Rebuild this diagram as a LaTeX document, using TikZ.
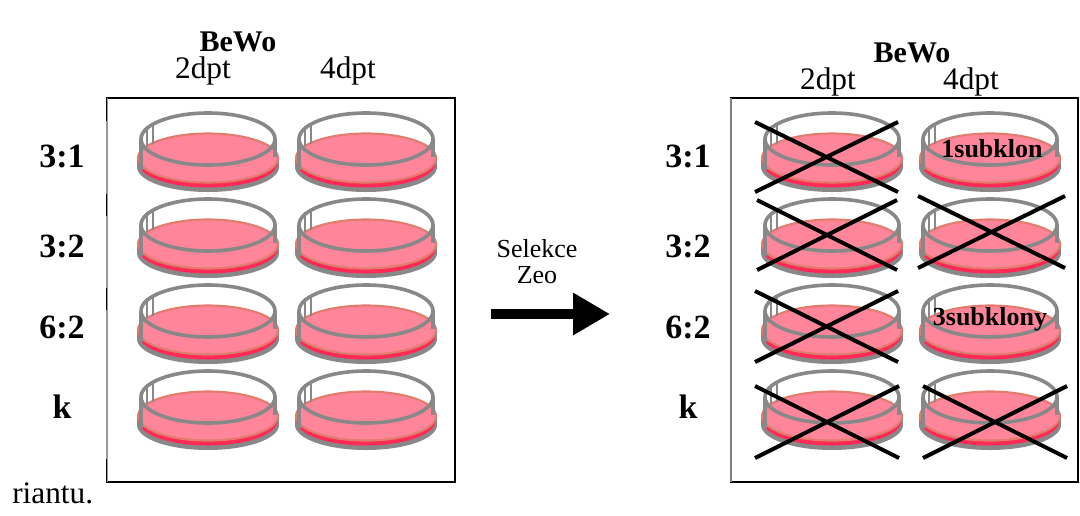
\documentclass[tikz,border=0pt]{standalone}
\usepackage{fontspec}
\setmainfont{Liberation Serif}
\usetikzlibrary{arrows.meta}
\definecolor{dishgray}{HTML}{888888}
\definecolor{mediumpink}{HTML}{FF859A}
\definecolor{rimsalmon}{HTML}{E27D6E}
\definecolor{mediumred}{HTML}{FF2A55}
\begin{document}
\begin{tikzpicture}[x=0.75pt,y=-0.75pt,
  lbl/.style={anchor=base,inner sep=0pt,font=\fontsize{19.5}{23}\selectfont},
  blbl/.style={lbl,font=\fontsize{19.5}{23}\selectfont\bfseries},
  headb/.style={lbl,font=\fontsize{22.5}{26}\selectfont\bfseries},
  headn/.style={lbl,font=\fontsize{23.5}{27}\selectfont},
  rowlbl/.style={lbl,font=\fontsize{25.5}{29}\selectfont\bfseries},
  panel/.style={draw=black,line width=1.1pt},
  crossline/.style={line width=3pt,black},
  petri/.pic={
    % base dish: gray wall and bottom, red layer, pink medium
    \fill[dishgray] (-71,45) rectangle (71,54);
    \fill[dishgray] (0,54) ellipse [x radius=71, y radius=25];
    \fill[mediumred] (0,50) ellipse [x radius=69.5, y radius=24.5];
    \filldraw[fill=mediumpink, draw=rimsalmon, line width=1.6pt]
      (0,45) ellipse [x radius=70, y radius=24.5];
    % lid: walls, grips and rim
    \draw[dishgray, line width=3pt] (-67,26) -- (-67,57);
    \draw[dishgray, line width=2.6pt] (67,26) -- (67,44);
    \draw[dishgray, line width=2.2pt] (-61,13) -- (-61,33) (-55,10) -- (-55,31);
    \draw[dishgray, line width=2.7pt] (0,26) ellipse [x radius=67, y radius=26];
  }]
\useasboundingbox (0,0) rectangle (1080,515);

% panels
\draw[panel] (107,98) rectangle (455,482);
\draw[panel] (731,98) rectangle (1078,482);
\draw[gray!80,line width=0.9pt] (107,98) -- (107,482);
\draw[gray,line width=0.9pt] (731,98) -- (731,482);
\foreach \a/\b in {98/121,194/216,288/310,459/482}
  \draw[black,line width=1.2pt] (106.3,\a) -- (106.3,\b);

% dishes
\foreach \cx in {208,366,832,990}
  \foreach \yo in {113,199,285,371}
    \pic at (\cx,\yo) {petri};

% headers
\node[headb] (bewoL) at (238,51) {BeWo};
\node[headn] (dptLa) at (203,78) {2dpt};
\node[headn] (dptLb) at (348,78) {4dpt};
\node[headb] (bewoR) at (912,62) {BeWo};
\node[headn] (dptRa) at (828,89) {2dpt};
\node[headn] (dptRb) at (971,89) {4dpt};

% row labels
\foreach \t/\yb/\n in {3:1/167/a,3:2/257/b,6:2/338/c,k/418/d}{
  \node[rowlbl] (rowL\n) at (62,\yb) {\t};
  \node[rowlbl] (rowR\n) at (688,\yb) {\t};
}

% selection arrow
\node[lbl] (sel) at (537,257) {Selekce};
\node[lbl] (zeo) at (537,283) {Zeo};
\coordinate (arrS) at (491,314);
\coordinate (arrE) at (610,314);
\draw[line width=7.5pt,-{Triangle[length=27.75pt,width=30pt]}] (arrS) -- (arrE);

% subclone notes
\node[blbl] (sub1) at (992,157) {1subklon};
\node[blbl] (sub3) at (990,325) {3subklony};

% discarded dishes
\draw[crossline] (755,122) -- (898,192) (755,192) -- (898,122);
\draw[crossline] (757,200) -- (897,270) (757,270) -- (897,200);
\draw[crossline] (918,196) -- (1065,268) (918,268) -- (1065,196);
\draw[crossline] (755,291) -- (898,362) (755,362) -- (898,291);
\draw[crossline] (755,386) -- (899,458) (755,458) -- (899,386);
\draw[crossline] (923,386) -- (1067,458) (923,458) -- (1067,386);

% caption fragment
\node[lbl,anchor=base west,font=\fontsize{23.5}{27}\selectfont] (cap) at (12,503) {riantu.};
\end{tikzpicture}
\end{document}
